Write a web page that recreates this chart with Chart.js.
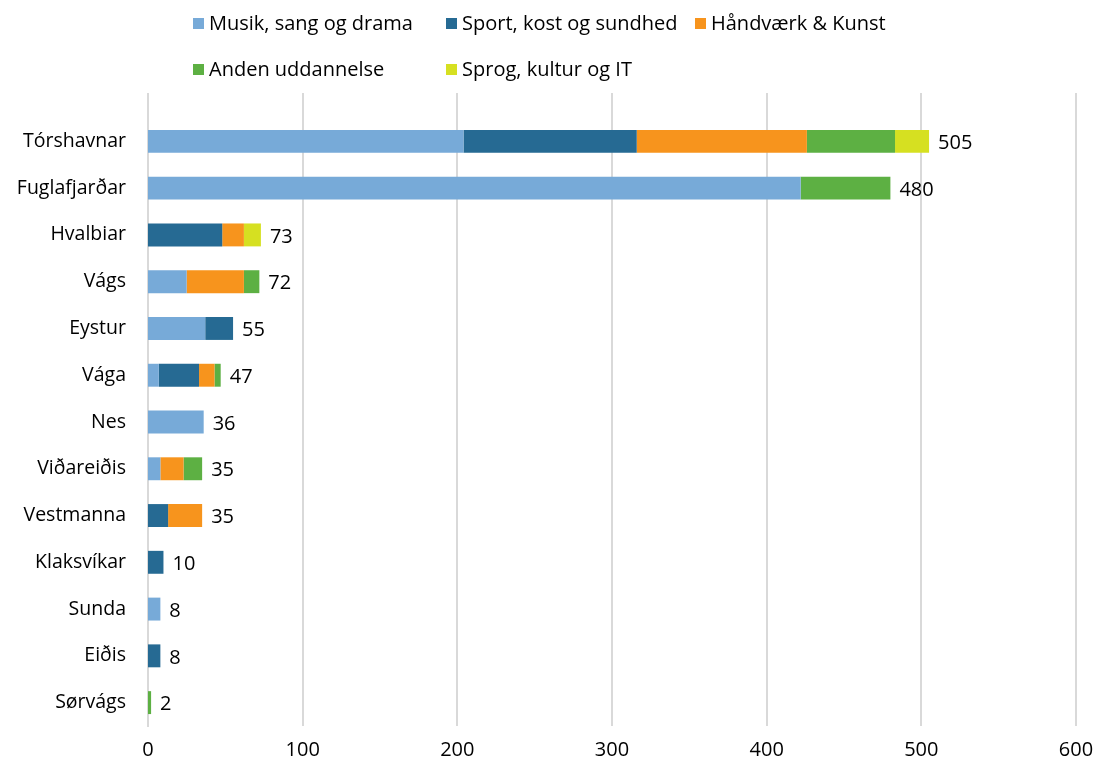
<!DOCTYPE html>
<html>
<head>
<meta charset="utf-8">
<script src="https://cdn.jsdelivr.net/npm/chart.js@4"></script>
<style>
  body { margin: 0; background: #fff; font-family: "Open Sans", sans-serif; }
  #wrap { position: relative; width: 1097px; height: 767px; }
  #chart { position: absolute; left: 0; top: 0; }
  .leg { position: absolute; font-size: 20px; color: #000; white-space: nowrap; line-height: 22px; }
  .leg span { display: inline-block; width: 11px; height: 11px; margin-right: 5px; vertical-align: 1px; }
</style>
</head>
<body>
<div id="wrap">
  <canvas id="chart" width="1097" height="767"></canvas>
  <div id="legend"></div>
</div>
<script>
const municipalities = ["Tórshavnar", "Fuglafjarðar", "Hvalbiar", "Vágs", "Eystur", "Vága", "Nes",
  "Viðareiðis", "Vestmanna", "Klaksvíkar", "Sunda", "Eiðis", "Sørvágs"];

const musik   = [204, 422, 0, 25, 37, 7, 36, 8, 0, 0, 8, 0, 0];
const sport   = [112, 0, 48, 0, 18, 26, 0, 0, 13, 10, 0, 8, 0];
const haandv  = [110, 0, 14, 37, 0, 10, 0, 15, 22, 0, 0, 0, 0];
const anden   = [57, 58, 0, 10, 0, 4, 0, 12, 0, 0, 0, 0, 2];
const sprog   = [22, 0, 11, 0, 0, 0, 0, 0, 0, 0, 0, 0, 0];

const totals = [505, 480, 73, 72, 55, 47, 36, 35, 35, 10, 8, 8, 2];
const xTicks = [0, 100, 200, 300, 400, 500, 600];

const seriesNames = ["Musik, sang og drama", "Sport, kost og sundhed", "Håndværk & Kunst",
  "Anden uddannelse", "Sprog, kultur og IT"];
const seriesColors = ["#77AAD8", "#266A93", "#F7941D", "#5DB043", "#D6E021"];
const seriesData = [musik, sport, haandv, anden, sprog];

// legend laid out in two rows like the original
const legendPos = [[193, 12], [446, 12], [695, 12], [193, 58], [446, 58]];
const legendEl = document.getElementById("legend");
seriesNames.forEach((name, i) => {
  const d = document.createElement("div");
  d.className = "leg";
  d.style.left = legendPos[i][0] + "px";
  d.style.top = legendPos[i][1] + "px";
  d.innerHTML = '<span style="background:' + seriesColors[i] + '"></span>' + name;
  legendEl.appendChild(d);
});

const gridAndTotals = {
  id: "gridAndTotals",
  beforeDatasetsDraw(chart) {
    const ctx = chart.ctx;
    const xs = chart.scales.x;
    const area = chart.chartArea;
    ctx.save();
    ctx.strokeStyle = "#d9d9d9";
    ctx.lineWidth = 2;
    xTicks.forEach(v => {
      const px = Math.round(xs.getPixelForValue(v));
      ctx.beginPath();
      ctx.moveTo(px, area.top - 25);
      ctx.lineTo(px, area.bottom);
      ctx.stroke();
    });
    ctx.restore();
  },
  afterDatasetsDraw(chart) {
    const ctx = chart.ctx;
    const xs = chart.scales.x;
    const ys = chart.scales.y;
    ctx.save();
    ctx.font = "20px 'Open Sans'";
    ctx.fillStyle = "#000";
    ctx.textAlign = "left";
    ctx.textBaseline = "middle";
    totals.forEach((t, i) => {
      ctx.fillText(String(t), xs.getPixelForValue(t) + 9, ys.getPixelForValue(i) + 2);
    });
    ctx.restore();
  }
};

new Chart(document.getElementById("chart").getContext("2d"), {
  type: "bar",
  data: {
    labels: municipalities,
    datasets: seriesData.map((d, i) => ({
      label: seriesNames[i],
      data: d,
      backgroundColor: seriesColors[i],
      borderWidth: 0,
      barPercentage: 0.49,
      categoryPercentage: 1
    }))
  },
  options: {
    indexAxis: "y",
    responsive: false,
    animation: false,
    layout: { padding: { top: 118, right: 21, left: 0, bottom: 0 } },
    plugins: {
      legend: { display: false },
      tooltip: { enabled: false }
    },
    scales: {
      x: {
        stacked: true,
        min: 0,
        max: 600,
        afterBuildTicks: s => { s.ticks = xTicks.map(v => ({ value: v })); },
        afterFit: s => { s.height = 41; s.paddingLeft = 0; s.paddingRight = 0; },
        grid: { display: false, drawTicks: false },
        border: { display: false },
        ticks: { color: "#000", font: { family: "Open Sans", size: 20 }, padding: 12 }
      },
      y: {
        stacked: true,
        afterFit: s => { s.width = 148; },
        grid: { display: false, drawTicks: false },
        border: { display: true, color: "#d9d9d9", width: 2 },
        ticks: { color: "#000", font: { family: "Open Sans", size: 19.5 }, padding: 22 }
      }
    }
  },
  plugins: [gridAndTotals]
});
</script>
</body>
</html>
